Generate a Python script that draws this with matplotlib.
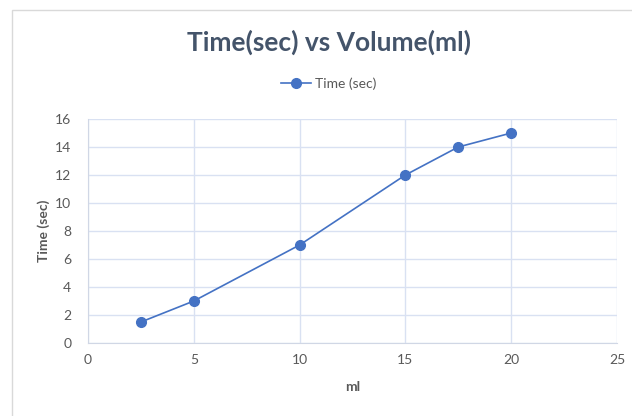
import matplotlib.pyplot as plt
from matplotlib.patches import Rectangle

plt.rcParams['font.family'] = ['Lato', 'DejaVu Sans']

volume_ml = [2.5, 5, 10, 15, 17.5, 20]
time_sec = [1.5, 3, 7, 12, 14, 15]
x_ticks = [0, 5, 10, 15, 20, 25]
y_ticks = [0, 2, 4, 6, 8, 10, 12, 14, 16]

blue = '#4472C4'
grey = '#595959'

fig = plt.figure(figsize=(6.32, 4.16), dpi=100)
# chart frame
fig.patches.append(Rectangle((12/632, -0.01), 1.0, 1 - 10/416 + 0.01,
                             transform=fig.transFigure, fill=False,
                             edgecolor='#D9D9D9', linewidth=1))

ax = fig.add_axes([88/632, 73/416, 529/632, 224/416])
ax.plot(volume_ml, time_sec, color=blue, linewidth=1.2, marker='o',
        markersize=7, label='Time (sec)')

ax.set_xlim(0, 25)
ax.set_ylim(0, 16)
ax.set_xticks(x_ticks)
ax.set_yticks(y_ticks)
ax.grid(True, color='#D9E1F2', linewidth=1)
ax.set_axisbelow(True)
for s in ['top', 'right']:
    ax.spines[s].set_visible(False)
for s in ['left', 'bottom']:
    ax.spines[s].set_color('#D0D7E5')
ax.tick_params(length=0, labelsize=10, colors=grey, pad=8)
ax.tick_params(axis='y', pad=12)

ax.set_xlabel('ml', fontsize=10, fontweight='bold', color=grey, labelpad=11)
ax.set_ylabel('Time (sec)', fontsize=10, fontweight='bold', color=grey, labelpad=4)

fig.text(0.52, 1 - 42/416, 'Time(sec) vs Volume(ml)', ha='center', va='center',
         fontsize=19, fontweight='bold', color='#44546A')
fig.legend(loc='center', bbox_to_anchor=(0.52, 1 - 84/416), frameon=False,
           fontsize=10, labelcolor=grey, handlelength=2.2, handletextpad=0.3)

fig.savefig('out.png', dpi=100)
